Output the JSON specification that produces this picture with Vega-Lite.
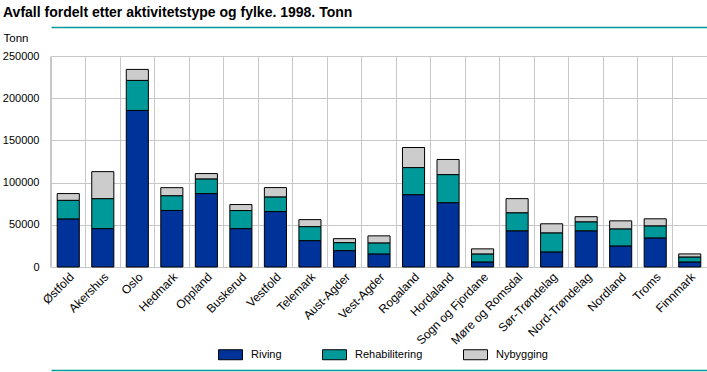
{
  "$schema": "https://vega.github.io/schema/vega-lite/v6.json",
  "autosize": "none",
  "width": 656,
  "height": 211,
  "padding": {"left": 51, "top": 56, "right": 0, "bottom": 105},
  "background": "white",
  "title": {
    "text": "Avfall fordelt etter aktivitetstype og fylke. 1998. Tonn",
    "anchor": "start",
    "frame": "group",
    "font": "Liberation Sans",
    "fontSize": 14,
    "fontWeight": "bold",
    "color": "#000000",
    "baseline": "alphabetic",
    "dx": -48,
    "dy": 4,
    "offset": 0
  },
  "config": {
    "view": {"stroke": "#c8c8c8", "strokeWidth": 1},
    "axis": {"labelFont": "Liberation Sans", "titleFont": "Liberation Sans", "labelFontSize": 11, "labelColor": "#000000", "titleColor": "#000000"},
    "legend": {"labelFont": "Liberation Sans", "labelFontSize": 11, "labelColor": "#000000"}
  },
  "data": {
    "values": [
      {"fylke": "Østfold", "type": "Riving", "tonn": 57000},
      {"fylke": "Østfold", "type": "Rehabilitering", "tonn": 22000},
      {"fylke": "Østfold", "type": "Nybygging", "tonn": 8000},
      {"fylke": "Akershus", "type": "Riving", "tonn": 45500},
      {"fylke": "Akershus", "type": "Rehabilitering", "tonn": 35500},
      {"fylke": "Akershus", "type": "Nybygging", "tonn": 32000},
      {"fylke": "Oslo", "type": "Riving", "tonn": 185500},
      {"fylke": "Oslo", "type": "Rehabilitering", "tonn": 35600},
      {"fylke": "Oslo", "type": "Nybygging", "tonn": 13000},
      {"fylke": "Hedmark", "type": "Riving", "tonn": 67000},
      {"fylke": "Hedmark", "type": "Rehabilitering", "tonn": 17500},
      {"fylke": "Hedmark", "type": "Nybygging", "tonn": 9500},
      {"fylke": "Oppland", "type": "Riving", "tonn": 87000},
      {"fylke": "Oppland", "type": "Rehabilitering", "tonn": 17400},
      {"fylke": "Oppland", "type": "Nybygging", "tonn": 6300},
      {"fylke": "Buskerud", "type": "Riving", "tonn": 45500},
      {"fylke": "Buskerud", "type": "Rehabilitering", "tonn": 21400},
      {"fylke": "Buskerud", "type": "Nybygging", "tonn": 7100},
      {"fylke": "Vestfold", "type": "Riving", "tonn": 65700},
      {"fylke": "Vestfold", "type": "Rehabilitering", "tonn": 17400},
      {"fylke": "Vestfold", "type": "Nybygging", "tonn": 11000},
      {"fylke": "Telemark", "type": "Riving", "tonn": 31250},
      {"fylke": "Telemark", "type": "Rehabilitering", "tonn": 16600},
      {"fylke": "Telemark", "type": "Nybygging", "tonn": 8300},
      {"fylke": "Aust-Agder", "type": "Riving", "tonn": 19400},
      {"fylke": "Aust-Agder", "type": "Rehabilitering", "tonn": 9500},
      {"fylke": "Aust-Agder", "type": "Nybygging", "tonn": 4700},
      {"fylke": "Vest-Agder", "type": "Riving", "tonn": 15500},
      {"fylke": "Vest-Agder", "type": "Rehabilitering", "tonn": 13100},
      {"fylke": "Vest-Agder", "type": "Nybygging", "tonn": 8300},
      {"fylke": "Rogaland", "type": "Riving", "tonn": 85700},
      {"fylke": "Rogaland", "type": "Rehabilitering", "tonn": 32100},
      {"fylke": "Rogaland", "type": "Nybygging", "tonn": 23800},
      {"fylke": "Hordaland", "type": "Riving", "tonn": 76200},
      {"fylke": "Hordaland", "type": "Rehabilitering", "tonn": 33300},
      {"fylke": "Hordaland", "type": "Nybygging", "tonn": 17900},
      {"fylke": "Sogn og Fjordane", "type": "Riving", "tonn": 6000},
      {"fylke": "Sogn og Fjordane", "type": "Rehabilitering", "tonn": 9500},
      {"fylke": "Sogn og Fjordane", "type": "Nybygging", "tonn": 6000},
      {"fylke": "Møre og Romsdal", "type": "Riving", "tonn": 42900},
      {"fylke": "Møre og Romsdal", "type": "Rehabilitering", "tonn": 21400},
      {"fylke": "Møre og Romsdal", "type": "Nybygging", "tonn": 16700},
      {"fylke": "Sør-Trøndelag", "type": "Riving", "tonn": 17900},
      {"fylke": "Sør-Trøndelag", "type": "Rehabilitering", "tonn": 22600},
      {"fylke": "Sør-Trøndelag", "type": "Nybygging", "tonn": 10700},
      {"fylke": "Nord-Trøndelag", "type": "Riving", "tonn": 42900},
      {"fylke": "Nord-Trøndelag", "type": "Rehabilitering", "tonn": 10700},
      {"fylke": "Nord-Trøndelag", "type": "Nybygging", "tonn": 6000},
      {"fylke": "Nordland", "type": "Riving", "tonn": 25000},
      {"fylke": "Nordland", "type": "Rehabilitering", "tonn": 20200},
      {"fylke": "Nordland", "type": "Nybygging", "tonn": 9500},
      {"fylke": "Troms", "type": "Riving", "tonn": 34500},
      {"fylke": "Troms", "type": "Rehabilitering", "tonn": 14300},
      {"fylke": "Troms", "type": "Nybygging", "tonn": 8300},
      {"fylke": "Finnmark", "type": "Riving", "tonn": 6000},
      {"fylke": "Finnmark", "type": "Rehabilitering", "tonn": 5900},
      {"fylke": "Finnmark", "type": "Nybygging", "tonn": 3600}
    ]
  },
  "layer": [
    {
      "mark": {"type": "bar", "stroke": "#000000", "strokeWidth": 1, "strokeOpacity": 1},
      "encoding": {
        "x": {
          "field": "fylke", "type": "nominal", "sort": null,
          "scale": {"paddingInner": 0.36, "paddingOuter": 0.18},
          "axis": {
            "orient": "bottom",
            "title": null, "labelAngle": -45, "domain": false, "ticks": false,
            "grid": true, "gridColor": "#c8c8c8", "gridWidth": 1, "bandPosition": -0.28125,
            "labelPadding": 4, "labelFontSize": 12
          }
        },
        "y": {
          "field": "tonn", "type": "quantitative", "aggregate": "sum", "stack": "zero",
          "scale": {"domain": [0, 250000], "nice": false},
          "axis": {
            "title": "Tonn", "titleAngle": 0, "titleAlign": "left", "titleBaseline": "alphabetic",
            "titleX": -48, "titleY": -15, "titleFontSize": 11.5, "titleFontWeight": "normal",
            "values": [0, 50000, 100000, 150000, 200000, 250000], "format": "d",
            "domain": false, "ticks": false, "labelPadding": 12,
            "grid": true, "gridColor": "#c8c8c8", "gridWidth": 1
          }
        },
        "color": {
          "field": "type", "type": "nominal",
          "sort": ["Riving", "Rehabilitering", "Nybygging"],
          "scale": {"domain": ["Riving", "Rehabilitering", "Nybygging"], "range": ["#003399", "#009999", "#cccccc"]},
          "legend": {
            "title": null, "orient": "none", "direction": "horizontal",
            "legendX": 167, "legendY": 286, "padding": 0,
            "symbolType": "M-1,-0.4167H1V0.4167H-1Z", "symbolSize": 576,
            "symbolStrokeColor": "#000000", "symbolStrokeWidth": 1, "symbolOpacity": 1,
            "labelOffset": 8, "columnPadding": 38
          }
        }
      }
    },
    {
      "mark": {"type": "bar", "opacity": 0},
      "encoding": {
        "x": {
          "field": "fylke", "type": "nominal", "sort": null,
          "axis": {"orient": "top", "title": null, "labels": false, "ticks": false, "grid": false,
                   "domain": true, "domainColor": "#009999", "domainWidth": 1.5, "offset": 29}
        },
        "y": {"field": "tonn", "type": "quantitative", "aggregate": "sum"}
      }
    },
    {
      "mark": {"type": "bar", "opacity": 0},
      "encoding": {
        "x": {
          "field": "fylke", "type": "nominal", "sort": null,
          "axis": {"orient": "bottom", "title": null, "labels": false, "ticks": false, "grid": false,
                   "domain": true, "domainColor": "#009999", "domainWidth": 1.5, "offset": 103}
        },
        "y": {"field": "tonn", "type": "quantitative", "aggregate": "sum"}
      }
    }
  ],
  "resolve": {"axis": {"x": "independent"}}
}
